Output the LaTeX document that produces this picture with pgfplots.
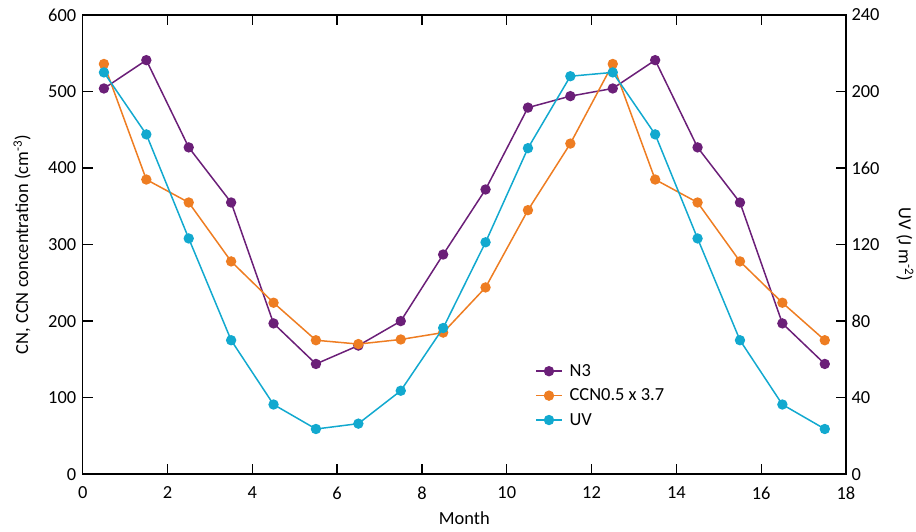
\documentclass[border=0pt]{standalone}
\usepackage{pgfplots}
\usepackage{pgfplotstable}
\pgfplotsset{compat=1.18}
\usetikzlibrary{calc}
\usepackage{fontspec}
\setmainfont{Carlito}

\definecolor{cpurple}{HTML}{6B1F78}
\definecolor{corange}{HTML}{EE7D22}
\definecolor{ccyan}{HTML}{12A9CF}

\pgfplotstableread{
month n3  ccn
0.5   504 536
1.5   541 385
2.5   427 355
3.5   355 278
4.5   197 224
5.5   144 175
6.5   168 170
7.5   200 176
8.5   287 185
9.5   372 244
10.5  479 345
11.5  494 432
12.5  504 536
13.5  541 385
14.5  427 355
15.5  355 278
16.5  197 224
17.5  144 175
}\cndata

\pgfplotstableread{
month uv
0.5   210.0
1.5   177.6
2.5   123.2
3.5   70.0
4.5   36.4
5.5   23.6
6.5   26.4
7.5   43.6
8.5   76.4
9.5   121.2
10.5  170.4
11.5  208.0
12.5  210.0
13.5  177.6
14.5  123.2
15.5  70.0
16.5  36.4
17.5  23.6
}\uvdata

\begin{document}
\begin{tikzpicture}
\pgfplotsset{
  every axis/.append style={
    scale only axis, width=763bp, height=459bp,
    xmin=0, xmax=18,
    font=\fontsize{18.5}{22}\selectfont,
    /pgf/number format/assume math mode=true,
    axis line style={line width=1.5bp},
    major tick length=10bp,
    tick align=inside,
    every tick/.style={black, line width=1.3bp},
  },
  ser/.style={color=#1, line width=1.5bp, mark=*, mark size=4.4bp, mark options={fill=#1, draw=#1}},
}
\begin{axis}[
    name=ax,
    ymin=0, ymax=600,
    ytick={0,100,...,600},
    xtick={0,2,...,18},
    ytick pos=left,
    xtick pos=both,
    xticklabel style={yshift=-9bp},
    yticklabel style={xshift=-3bp},
    xlabel={Month},
    xlabel style={at={(axis description cs:0.5,-0.096)}, anchor=center},
    ylabel={CN, CCN concentration (cm\textsuperscript{-3})},
    ylabel style={at={(axis description cs:-0.0795,0.5)}, anchor=center},
]
\addplot[ser=cpurple] table[x=month, y=n3] {\cndata};
\addplot[ser=corange] table[x=month, y=ccn] {\cndata};
\end{axis}
\begin{axis}[
    ymin=0, ymax=240,
    ytick={0,40,...,240},
    axis x line=none,
    axis y line*=right,
    yticklabel style={xshift=2bp},
    ylabel={UV (J m\textsuperscript{-2})},
    ylabel style={rotate=180, at={(axis description cs:1.0773,0.5)}, anchor=center},
    legend style={draw=none, fill=none, at={(0.589,0.248)}, anchor=north west,
      font=\fontsize{18.5}{22}\selectfont, row sep=7bp},
    legend cell align=left,
    legend image code/.code={\draw[mark repeat=2,mark phase=2] plot coordinates {(0cm,0cm) (0.45cm,0cm) (0.9cm,0cm)};
      \path (1.08cm,0cm);},
]
\addlegendimage{ser=cpurple}
\addlegendentry{N3}
\addlegendimage{ser=corange}
\addlegendentry{CCN0.5 x 3.7}
\addplot[ser=ccyan] table[x=month, y=uv] {\uvdata};
\addlegendentry{UV}
\end{axis}
\pgfresetboundingbox
\path[use as bounding box] ($(ax.south west)+(-82.7bp,-57bp)$) rectangle ($(ax.north east)+(70bp,15bp)$);
\end{tikzpicture}
\end{document}
